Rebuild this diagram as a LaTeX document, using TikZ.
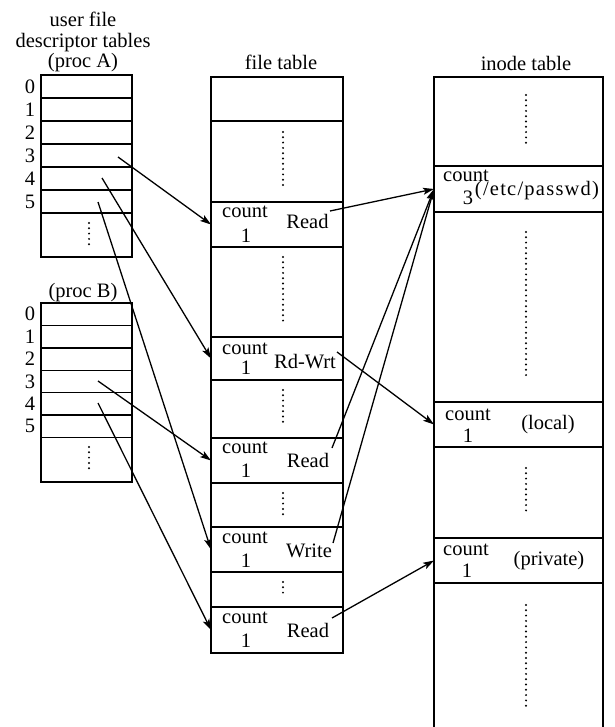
\documentclass[tikz,border=0pt]{standalone}
\usepackage{fontspec}
\setmainfont{Liberation Serif}
\usetikzlibrary{arrows.meta}
\begin{document}
\begin{tikzpicture}[x=1pt,y=-1pt,
  every node/.style={font=\fontsize{20.5}{22}\selectfont, inner sep=0pt, outer sep=0pt},
  cell/.style={draw, line width=1.4pt},
  txt/.style={anchor=base},
  dots/.style={line width=2.2pt, line cap=round, dash pattern=on 0pt off 5.3pt},
  conn/.style={line width=1.3pt, -{Stealth[length=11pt,width=7pt,inset=2.5pt]}}]
\useasboundingbox (0,0) rectangle (614,727);

% ---------- titles
\node[txt] (t1) at (83,27) {user file};
\node[txt] (t2) at (83,48) {descriptor tables};
\node[txt] (t3) at (83,68) {(proc A)};
\node[txt] (t4) at (83,297) {(proc B)};
\node[txt] (t5) at (281,70) {file table};
\node[txt] (t6) at (526,71) {inode table};

% ---------- proc A
\foreach \i in {0,...,5} {
  \node[cell, minimum width=91, minimum height=23] (a\i) at (86.5,{86.5+23*\i}) {};
  \node (na\i) at (30,{86.5+23*\i}) {\i};
}
\node[cell, minimum width=91, minimum height=44] (a6) at (86.5,235) {};
\draw[dots] (89,223) -- (89,247);

% ---------- proc B
\foreach \i in {0,...,5} {
  \node[cell, minimum width=91, minimum height=22.4] (b\i) at (86.5,{314.2+22.4*\i}) {};
  \node (nb\i) at (30,{314.2+22.4*\i}) {\i};
}
\node[cell, minimum width=91, minimum height=44.6] (b6) at (86.5,459.7) {};
\draw[dots] (89,447) -- (89,472);

% ---------- file table
\foreach \n/\t/\b in {0/77/121,1/121/202,2/202/247,3/247/337,4/337/380,5/380/438,6/438/483,7/483/527,8/527/572,9/572/607,10/607/653} {
  \node[cell, minimum width=132, minimum height={\b-\t}] (f\n) at (277,{(\t+\b)/2}) {};
}
\draw[dots] (283,132) -- (283,190);
\draw[dots] (283,257) -- (283,325);
\draw[dots] (283,390) -- (283,427);
\draw[dots] (283,493) -- (283,517);
\draw[dots] (283,582) -- (283,597);

\node[txt] (fc2) at (245,218) {count};
\node[txt] (fo2) at (246,242) {1};
\node[txt] (fm2) at (307.5,228) {Read};
\node[txt] (fc4) at (245,354) {count};
\node[txt] (fo4) at (246,374) {1};
\node[txt] (fm4) at (305,368) {Rd-Wrt};
\node[txt] (fc6) at (245,453) {count};
\node[txt] (fo6) at (246,477) {1};
\node[txt] (fm6) at (308,467) {Read};
\node[txt] (fc8) at (245,543) {count};
\node[txt] (fo8) at (246,567) {1};
\node[txt] (fm8) at (309,557) {Write};
\node[txt] (fc10) at (245,623) {count};
\node[txt] (fo10) at (246,647) {1};
\node[txt] (fm10) at (308,637) {Read};

% ---------- inode table
\foreach \n/\t/\b in {0/77/166,1/166/212,2/212/402,3/402/447,4/447/538,5/538/583} {
  \node[cell, minimum width=169, minimum height={\b-\t}] (i\n) at (518.5,{(\t+\b)/2}) {};
}
\coordinate (i6l) at (434,727);
\coordinate (i6r) at (603,727);
\draw[line width=1.4pt] (i5.south west) -- (i6l);
\draw[line width=1.4pt] (i5.south east) -- (i6r);
\draw[dots] (526,95) -- (526,143);
\draw[dots] (526,232) -- (526,379);
\draw[dots] (526,468) -- (526,515);
\draw[dots] (526,605) -- (526,708);

\node[txt] (ic1) at (466,182) {count};
\node[txt] (io1) at (468,205) {3};
\node[txt] (im1) at (537,196) {\addfontfeatures{LetterSpace=6}(/etc/passwd)};
\node[txt] (ic3) at (468,420) {count};
\node[txt] (io3) at (468,442) {1};
\node[txt] (im3) at (548,429) {(local)};
\node[txt] (ic5) at (466,555) {count};
\node[txt] (io5) at (467,577) {1};
\node[txt] (im5) at (549,565) {(private)};

% ---------- connector start points
\coordinate (sa3) at (118,157);
\coordinate (sa4) at (102,178);
\coordinate (sa5) at (98,202);
\coordinate (sb3) at (98,381);
\coordinate (sb4) at (98,403);
\coordinate (s2) at (330,211);
\coordinate (s4) at (337,352);
\coordinate (s6) at (332,448);
\coordinate (s8) at (333,543);
\coordinate (s10) at (332,618);

% ---------- connectors
\draw[conn] (sa3) -- (f2.west);
\draw[conn] (sa4) -- (f4.west);
\draw[conn] (sa5) -- (f8.west);
\draw[conn] (sb3) -- (f6.west);
\draw[conn] (sb4) -- (f10.west);
\draw[conn] (s2) -- (i1.west);
\draw[conn] (s4) -- (i3.west);
\draw[conn] (s6) -- (i1.west);
\draw[conn] (s8) -- (i1.west);
\draw[conn] (s10) -- (i5.west);
\end{tikzpicture}
\end{document}
